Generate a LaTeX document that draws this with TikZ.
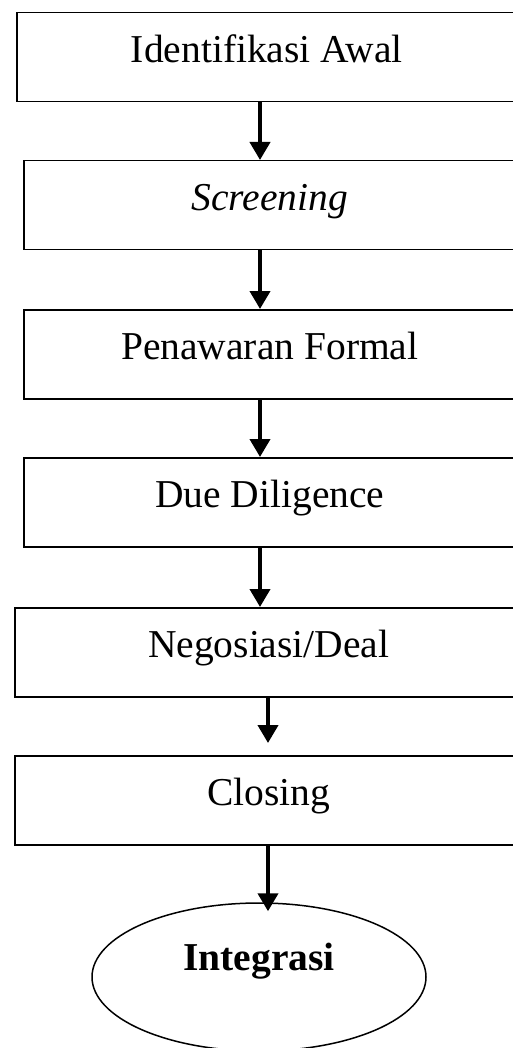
\documentclass[tikz,border=0pt]{standalone}
\usepackage{fontspec}
\setmainfont{Liberation Serif}
\usetikzlibrary{arrows.meta}
\usetikzlibrary{shapes,shapes.geometric}
\tikzset{>={Triangle[width=20pt,length=18pt]}}

\begin{document}
\begin{tikzpicture}[x=1pt,y=-1pt,
    stage/.style={draw, line width=1.5pt, rectangle, inner sep=0pt, anchor=north west,
      minimum height=89pt, text height=50pt, text depth=39pt,
      font=\fontsize{39.5}{47}\selectfont},
    goal/.style={draw, line width=1.5pt, ellipse, inner sep=0pt,
      minimum width=334pt, minimum height=148pt, text height=27pt, text depth=41pt,
      font=\bfseries\fontsize{39.5}{47}\selectfont},
    flow/.style={->, line width=4pt}]
        \useasboundingbox (0,0) rectangle (513,1048);
        \clip (0,0) rectangle (513,1048);
        \node[stage, minimum width=500pt] (ident) at (16,12) {Identifikasi Awal};
        \node[stage, minimum width=492pt] (screen) at (23,160) {\textit{Screening}};
        \node[stage, minimum width=492pt] (tawar) at (23,309) {Penawaran Formal};
        \node[stage, minimum width=492pt] (dd) at (23,457) {Due Diligence};
        \node[stage, minimum width=508pt] (nego) at (14,607) {Negosiasi/Deal};
        \node[stage, minimum width=508pt] (close) at (14,755) {Closing};
        \node[goal] (integ) at (259,977) {Integrasi};
        \coordinate (upper) at (260,0);
        \coordinate (lower) at (268,0);
        \coordinate (closetop) at ([yshift=12pt]close.north);
        \coordinate (integtop) at ([yshift=-9pt]integ.north);
        \draw[flow] (ident.south -| upper) -- (screen.north -| upper);
        \draw[flow] (screen.south -| upper) -- (tawar.north -| upper);
        \draw[flow] (tawar.south -| upper) -- (dd.north -| upper);
        \draw[flow] (dd.south -| upper) -- (nego.north -| upper);
        \draw[flow] (nego.south -| lower) -- (closetop -| lower);
        \draw[flow] (close.south -| lower) -- (integtop -| lower);
      \end{tikzpicture}
\end{document}
